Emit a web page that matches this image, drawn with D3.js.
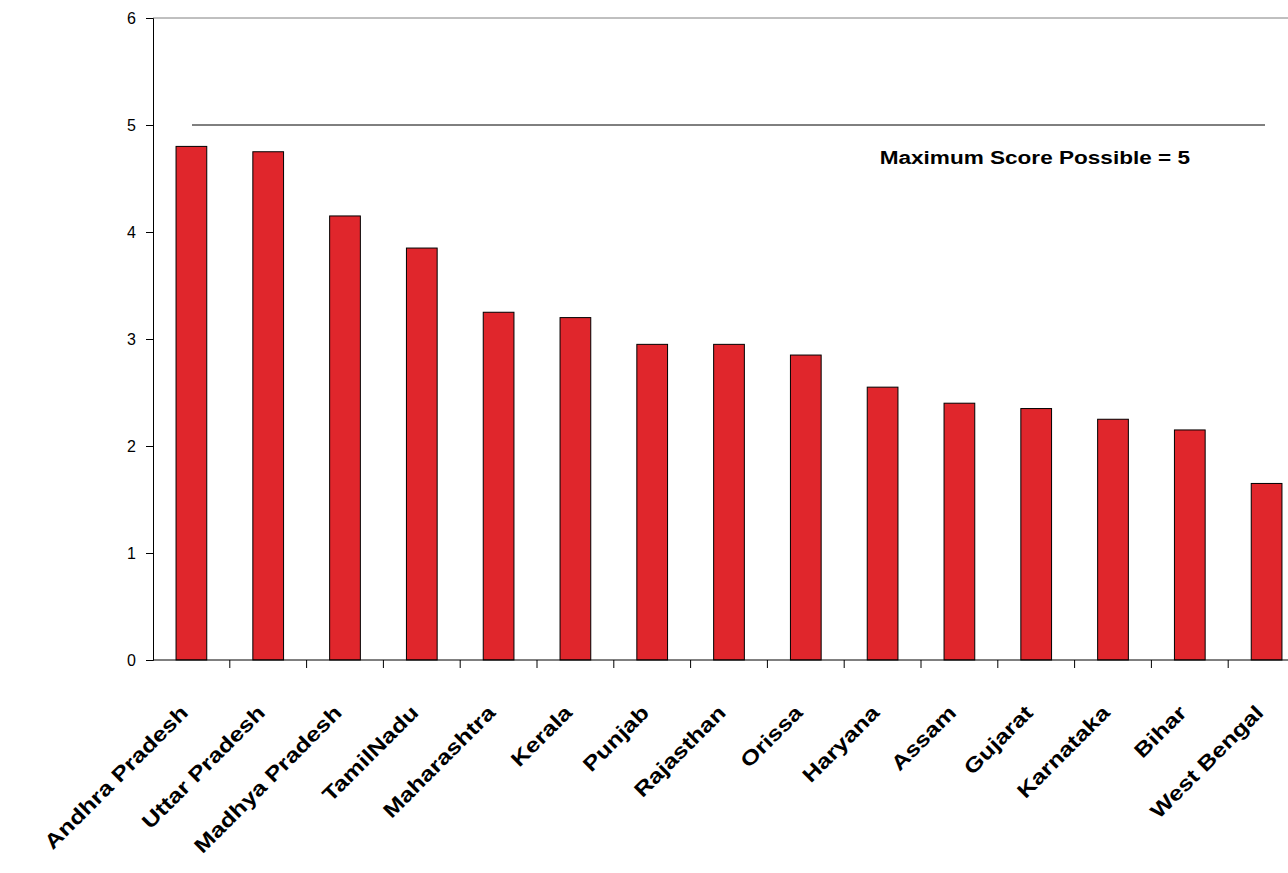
<!DOCTYPE html>
<html><head><meta charset="utf-8">
<script src="https://cdn.jsdelivr.net/npm/d3@7"></script>
<style>body{margin:0;background:#fff}svg{display:block}</style>
</head><body>
<script>
const categories=["Andhra Pradesh","Uttar Pradesh","Madhya Pradesh","TamilNadu","Maharashtra","Kerala","Punjab","Rajasthan","Orissa","Haryana","Assam","Gujarat","Karnataka","Bihar","West Bengal"];
const values=[4.8,4.75,4.15,3.85,3.25,3.2,2.95,2.95,2.85,2.55,2.4,2.35,2.25,2.15,1.65];
const yTicks=[0,1,2,3,4,5,6];
const maxScore=5;
const maxLabel="Maximum Score Possible = 5";
(function(){
const W=1288,H=873,mL=153,mT=18,mB=660,mR=153+76.8*15;
const svg=d3.select("body").append("svg").attr("width",W).attr("height",H).style("font-family","Arial, Liberation Sans, sans-serif");
const x=d3.scaleBand().domain(categories).range([mL,mR]).paddingInner(0.6).paddingOuter(0.3);
const y=d3.scaleLinear().domain([0,6]).range([mB,mT]);
svg.append("line").attr("x1",mL).attr("x2",W).attr("y1",y(6)).attr("y2",y(6)).attr("stroke","#808080");
svg.selectAll("rect.bar").data(values).enter().append("rect")
 .attr("x",(d,i)=>x(categories[i])).attr("width",x.bandwidth())
 .attr("y",d=>y(d)).attr("height",d=>y(0)-y(d))
 .attr("fill","#e0262c").attr("stroke","#000").attr("stroke-width",1);
svg.append("line").attr("x1",192).attr("x2",1265).attr("y1",y(maxScore)).attr("y2",y(maxScore)).attr("stroke","#000");
svg.append("text").attr("transform","translate(1190,164) scale(1.22,1)").attr("text-anchor","end").attr("font-weight","bold").attr("font-size",18.5).text(maxLabel);
const ya=svg.append("g").attr("transform",`translate(${mL},0)`).call(d3.axisLeft(y).tickValues(yTicks).tickSize(7).tickPadding(10).tickFormat(d3.format("d")));
ya.selectAll("text").attr("font-size",16).attr("fill","#000").style("font-family","Arial, Liberation Sans, sans-serif");
ya.select(".domain").attr("stroke","#000");
const step=x.step();
svg.append("line").attr("x1",mL).attr("x2",W).attr("y1",mB).attr("y2",mB).attr("stroke","#000");
svg.selectAll("line.xt").data(d3.range(1,categories.length)).enter().append("line")
 .attr("x1",i=>mL+i*step).attr("x2",i=>mL+i*step).attr("y1",mB).attr("y2",mB+8).attr("stroke","#000");
svg.selectAll("text.xl").data(categories).enter().append("text")
 .attr("transform",d=>`translate(${x(d)+x.bandwidth()/2-2},${mB+54}) rotate(-45) scale(1.22,1)`)
 .attr("text-anchor","end").attr("font-weight","bold").attr("font-size",20.5).text(d=>d);
})();
</script>
</body></html>
